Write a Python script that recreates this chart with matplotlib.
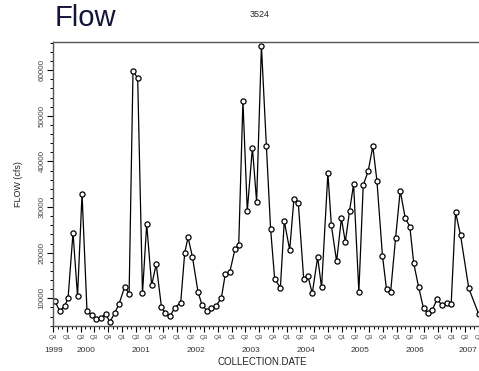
"""
Flow time series for station 3524
"""

import matplotlib

matplotlib.use("Agg")
import matplotlib.dates as mdates
import matplotlib.pyplot as plt
import matplotlib.transforms as mtransforms
import pandas as pd

plt.rcParams["font.family"] = ["Liberation Sans", "DejaVu Sans"]

station = "3524"

dates = [
    "1999-10-12", "1999-11-14", "1999-12-17", "2000-01-08", "2000-02-10",
    "2000-03-11", "2000-04-10", "2000-05-13", "2000-06-12", "2000-07-15",
    "2000-08-13", "2000-09-14", "2000-10-12", "2000-11-14", "2000-12-13",
    "2001-01-19", "2001-02-17", "2001-03-15", "2001-04-15", "2001-05-17",
    "2001-06-14", "2001-07-17", "2001-08-16", "2001-09-20", "2001-10-14",
    "2001-11-17", "2001-12-17", "2002-01-26", "2002-02-22", "2002-03-16",
    "2002-04-14", "2002-05-21", "2002-06-17", "2002-07-20", "2002-08-18",
    "2002-09-20", "2002-10-24", "2002-11-19", "2002-12-18", "2003-01-22",
    "2003-02-16", "2003-03-16", "2003-04-14", "2003-05-18", "2003-06-15",
    "2003-07-17", "2003-08-19", "2003-09-16", "2003-10-13", "2003-11-20",
    "2003-12-16", "2004-01-21", "2004-02-18", "2004-03-18", "2004-04-23",
    "2004-05-21", "2004-06-19", "2004-07-25", "2004-08-20", "2004-10-01",
    "2004-10-24", "2004-11-28", "2004-12-30", "2005-01-25", "2005-02-22",
    "2005-03-21", "2005-04-25", "2005-05-24", "2005-06-26", "2005-07-27",
    "2005-08-23", "2005-09-29", "2005-10-26", "2005-11-22", "2005-12-25",
    "2006-01-25", "2006-02-27", "2006-03-30", "2006-04-25", "2006-05-27",
    "2006-06-29", "2006-07-27", "2006-08-26", "2006-09-28", "2006-10-27",
    "2006-12-01", "2006-12-30", "2007-01-28", "2007-03-02", "2007-04-26",
    "2007-07-01",
]

flow = [
    9410, 7220, 8380, 10000, 24390, 10500, 32870, 7220, 6340, 5500,
    5700, 6600, 4800, 6840, 8860, 12540, 10940, 59850, 58240, 11100,
    26290, 12850, 17520, 8160, 6840, 6120, 7940, 9040, 20000, 23380,
    19120, 11450, 8530, 7280, 7800, 8380, 10130, 15400, 15700, 20750,
    21690, 53270, 29150, 43030, 31190, 65330, 43400, 25200, 14300, 12330,
    26950, 20590, 31710, 30970, 14300, 14890, 11100, 18990, 12410, 37410,
    26070, 18110, 27540, 22350, 29150, 35000, 11450, 34780, 37920, 43330,
    35790, 19340, 11970, 11320, 23160, 33600, 27680, 25700, 17680, 12540,
    7800, 6840, 7430, 9910, 8530, 8970, 8820, 28860, 23880, 12190,
    6560,
]

years = [1999, 2000, 2001, 2002, 2003, 2004, 2005, 2006, 2007]
# where each year label sits on the date axis
year_pos = ["1999-10-01", "2000-05-06", "2001-05-06", "2002-05-06",
            "2003-05-06", "2004-05-06", "2005-05-06", "2006-05-06",
            "2007-04-18"]

x = pd.to_datetime(dates)

fig = plt.figure(figsize=(4.79, 3.71), dpi=100)
ax = fig.add_axes([0.111, 0.122, 0.889, 0.765])

ax.plot(x, flow, color="black", linewidth=0.9, marker="o", markersize=3.7,
        markerfacecolor="white", markeredgecolor="black", markeredgewidth=0.9)

ax.set_xlim(pd.Timestamp("1999-10-01"), pd.Timestamp("2007-07-03"))
ax.set_ylim(4000, 66200)

# spines
for side in ("left", "top", "bottom"):
    ax.spines[side].set_color("#555555")
    ax.spines[side].set_linewidth(1.0)
ax.spines["right"].set_visible(False)

# y axis
ax.yaxis.set_major_locator(plt.MultipleLocator(10000))
ax.yaxis.set_minor_locator(plt.MultipleLocator(2000))
ax.tick_params(axis="y", which="major", length=4, width=0.8, labelsize=5.8,
               labelcolor="#444444", pad=1.5)
ax.tick_params(axis="y", which="minor", length=2.5, width=0.7)
for lab in ax.get_yticklabels():
    lab.set_rotation(90)
    lab.set_va("center")
ax.set_ylabel("FLOW (cfs)", fontsize=6.5, color="#222222", labelpad=11)

# x axis: quarters and months
ax.xaxis.set_major_locator(mdates.MonthLocator(bymonth=[1, 4, 7, 10]))
ax.xaxis.set_minor_locator(mdates.MonthLocator())
ax.xaxis.set_major_formatter(
    plt.FuncFormatter(lambda v, _: f"Q{(mdates.num2date(v).month - 1) // 3 + 1}")
)
ax.tick_params(axis="x", which="major", length=4, width=0.8, labelsize=4.5,
               labelcolor="#444444", pad=2.5)
ax.tick_params(axis="x", which="minor", length=2.5, width=0.7)

trans = mtransforms.blended_transform_factory(ax.transData, ax.transAxes)
for yr, pos in zip(years, year_pos):
    ax.text(pd.Timestamp(pos), -0.087, str(yr), transform=trans, ha="center",
            va="center", fontsize=6, color="#333333", clip_on=False)

fig.text(0.547, 0.025, "COLLECTION.DATE", ha="center", va="center",
         fontsize=7, color="#222222")

fig.text(0.115, 0.952, "Flow", ha="left", va="center", fontsize=21,
         color="#141438")
fig.text(0.543, 0.96, station, ha="center", va="center", fontsize=6.5,
         color="#222222")

fig.savefig("out.png", dpi=100)
